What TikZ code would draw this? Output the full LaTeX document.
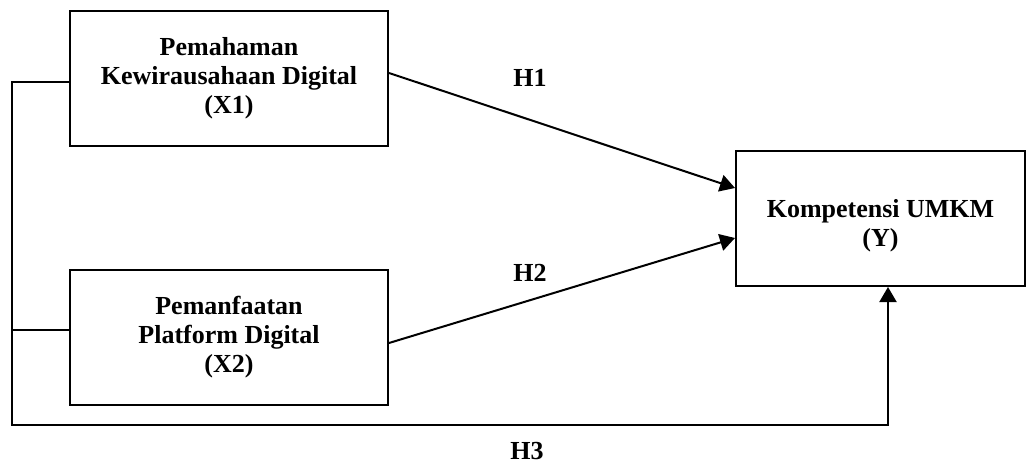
\documentclass[tikz,border=0pt]{standalone}
\usepackage{fontspec}
\setmainfont{Liberation Serif}
\usetikzlibrary{arrows.meta}
\tikzset{
	varbox/.style={draw, line width=1pt, align=center, inner sep=0pt, font=\fontsize{13}{14.5}\selectfont\bfseries},
	hlabel/.style={font=\fontsize{13}{14.5}\selectfont\bfseries},
	link/.style={line width=1pt, -{Triangle[length=7.5pt,width=8.5pt]}},
	plain/.style={line width=1pt}
}
\begin{document}
	\begin{tikzpicture}[x=0.5pt,y=-0.5pt]
		\useasboundingbox (0,0) rectangle (1028,465);
		\node[varbox, minimum width=159pt, minimum height=67.5pt] (x1) at (229,78.5) {Pemahaman\\Kewirausahaan Digital\\(X1)};
		\node[varbox, minimum width=159pt, minimum height=67.5pt] (x2) at (229,337.5) {Pemanfaatan\\Platform Digital\\(X2)};
		\node[varbox, minimum width=144.5pt, minimum height=67.5pt] (y) at (880.5,218.5) {\rule{0pt}{16pt}Kompetensi UMKM\\(Y)};
		\coordinate (lb) at (12,425);
		\coordinate (x2in) at ([yshift=3.75pt]x2.west);
		\draw[link] ([yshift=2.75pt]x1.east) -- ([yshift=15.25pt]y.west);
		\draw[link] ([yshift=-2.75pt]x2.east) -- ([yshift=-9.75pt]y.west);
		\draw[link] ([yshift=-1.75pt]x1.west) -| (lb) -| ([xshift=3.75pt]y.south);
		\draw[plain] (x2in) -- (x2in -| lb);
		\node[hlabel] (h1) at (530,78) {H1};
		\node[hlabel] (h2) at (530,273) {H2};
		\node[hlabel] (h3) at (527,451) {H3};
	\end{tikzpicture}
\end{document}
